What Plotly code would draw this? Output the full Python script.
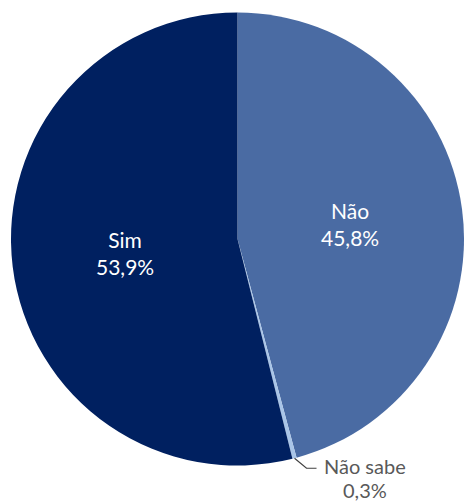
import math
import plotly.graph_objects as go

# Survey answers and their shares (%)
labels = ["Não", "Não sabe", "Sim"]
values = [45.8, 0.3, 53.9]
value_text = ["45,8%", "0,3%", "53,9%"]
colors = ["#4A6BA3", "#A9C5E8", "#002060"]

W, H = 464, 502
dom_x = [11 / W, 1.0]
dom_y = [0.0717, 0.976]

fig = go.Figure(
    go.Pie(
        labels=labels,
        values=values,
        sort=False,
        direction="clockwise",
        rotation=0,
        marker=dict(colors=colors, line=dict(width=0)),
        textinfo="none",
        hoverinfo="label+percent",
        domain=dict(x=dom_x, y=dom_y),
        showlegend=False,
    )
)

# Pie geometry in pixels, used to place the slice labels
cx = (dom_x[0] + dom_x[1]) / 2 * W
cy = (1 - (dom_y[0] + dom_y[1]) / 2) * H
R = min((dom_x[1] - dom_x[0]) * W, (dom_y[1] - dom_y[0]) * H) / 2
total = sum(values)


def to_paper(px, py):
    return px / W, 1 - py / H


font_family = "Lato, 'Open Sans', sans-serif"
cum = 0.0
for lab, val, txt in zip(labels, values, value_text):
    theta = 2 * math.pi * (cum + val / 2) / total
    cum += val
    s, c = math.sin(theta), math.cos(theta)
    if val / total > 0.05:
        px, py = cx + 0.5 * R * s, cy - 0.5 * R * c
        x, y = to_paper(px, py)
        fig.add_annotation(
            x=x, y=y, xref="paper", yref="paper",
            xanchor="center", yanchor="middle",
            text=f"{lab}<br>{txt}", showarrow=False,
            font=dict(family=font_family, size=21, color="white"),
            align="center",
        )
    else:
        # small slice: label outside with an elbow leader line
        ex, ey = cx + R * s, cy - R * c
        bx, by = ex + 12, ey + 10
        hx = bx + 10
        p0, p1, p2 = to_paper(ex, ey), to_paper(bx, by), to_paper(hx, by)
        fig.add_shape(
            type="path", xref="paper", yref="paper",
            path=f"M {p0[0]},{p0[1]} L {p1[0]},{p1[1]} L {p2[0]},{p2[1]}",
            line=dict(color="#404040", width=1.2),
        )
        label_cx = hx + 48
        for line_txt, dy in ((lab, -2), (txt, 22)):
            tx, ty = to_paper(label_cx, by + dy)
            fig.add_annotation(
                x=tx, y=ty, xref="paper", yref="paper",
                xanchor="center", yanchor="middle",
                text=line_txt, showarrow=False,
                font=dict(family=font_family, size=20, color="#595959"),
                borderpad=0,
            )

fig.update_layout(
    width=W, height=H,
    margin=dict(l=0, r=0, t=0, b=0),
    paper_bgcolor="white",
    plot_bgcolor="white",
)

fig.write_html("out.html")
